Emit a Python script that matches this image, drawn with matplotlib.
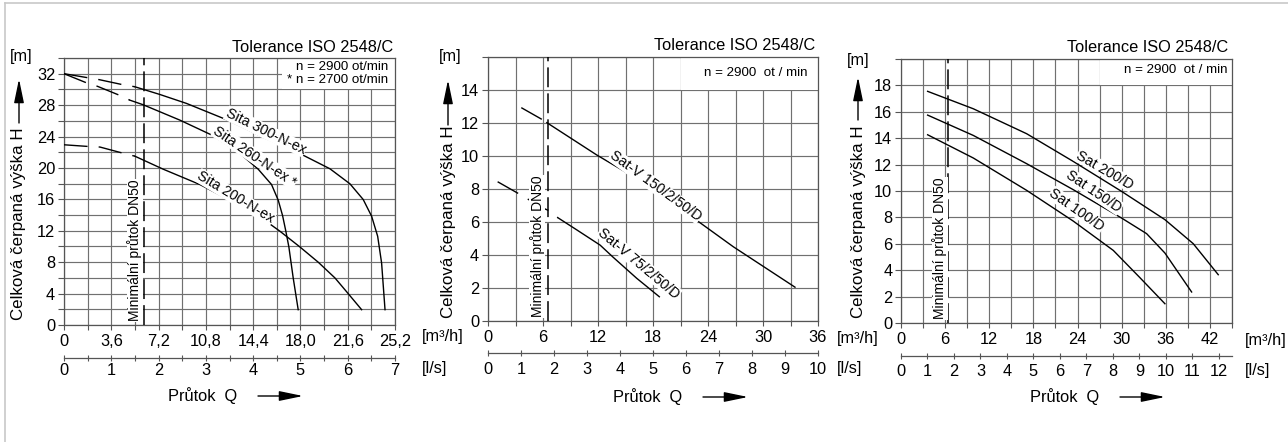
import matplotlib.pyplot as plt
from matplotlib.patches import Rectangle
import numpy as np

plt.rcParams['font.family'] = ['Liberation Sans', 'DejaVu Sans']

W, H = 1288, 442
FS = 11.8

# ---- panel 1: Sita (Q [m3/h], H [m])
sita300_q_dash = [0.0, 1.77, 2.69, 4.47, 5.39]
sita300_h_dash = [32.0, 31.5, 31.24, 30.6, 30.34]
sita300_q = [5.39, 7.29, 9.32, 12.63, 15.42, 18.09, 20.25, 21.77, 22.78, 23.42, 23.88, 24.18, 24.44]
sita300_h = [30.34, 29.36, 28.22, 25.97, 23.71, 21.72, 19.89, 17.98, 15.98, 13.85, 11.30, 7.90, 1.95]

sita260_q_dash = [0.0, 1.77, 2.54, 4.26, 5.0]
sita260_h_dash = [32.0, 30.8, 30.4, 29.23, 28.64]
sita260_q = [5.0, 6.02, 8.82, 11.36, 13.39, 14.78, 15.80, 16.31, 16.64, 16.89, 17.12, 17.45, 17.83]
sita260_h = [28.64, 28.05, 26.09, 24.10, 21.84, 19.85, 17.89, 15.89, 13.94, 11.94, 9.94, 5.99, 1.95]

sita200_q_dash = [0.0, 1.8, 2.74, 4.44, 5.39]
sita200_h_dash = [22.95, 22.74, 22.66, 21.9, 21.5]
sita200_q = [5.39, 7.54, 10.34, 12.63, 14.78, 16.44, 17.96, 19.36, 20.63, 21.64, 22.66]
sita200_h = [21.50, 19.85, 17.89, 15.89, 13.94, 11.94, 9.94, 7.99, 5.99, 3.99, 1.95]

p1_qlabels = ['0', '3,6', '7,2', '10,8', '14,4', '18,0', '21,6', '25,2']
p1_hlabels = ['0', '4', '8', '12', '16', '20', '24', '28', '32']
p1_lslabels = ['0', '1', '2', '3', '4', '5', '6', '7']
p1_minflow = 6.1

# ---- panel 2: Sat-V
satv150_q_dash = [3.63, 5.88, 6.42]
satv150_h_dash = [12.93, 12.22, 12.02]
satv150_q = [6.42, 11.87, 15.85, 20.95, 26.76, 33.49]
satv150_h = [12.02, 10.06, 8.75, 6.83, 4.50, 2.05]

satv75_q_dash = [1.05, 3.27, 6.06, 6.6, 7.62]
satv75_h_dash = [8.44, 7.74, 6.83, 6.7, 6.26]
satv75_q = [7.62, 9.69, 12.23, 13.68, 16.22, 18.69]
satv75_h = [6.26, 5.52, 4.6, 3.85, 2.59, 1.47]

p2_qlabels = ['0', '6', '12', '18', '24', '30', '36']
p2_hlabels = ['0', '2', '4', '6', '8', '10', '12', '14']
p2_lslabels = ['0', '1', '2', '3', '4', '5', '6', '7', '8', '9', '10']
p2_minflow = 6.53

# ---- panel 3: Sat
sat200_q = [3.62, 9.83, 17.08, 23.42, 29.99, 35.88, 39.73, 43.13]
sat200_h = [17.55, 16.23, 14.34, 12.24, 9.97, 7.83, 6.01, 3.66]
sat150_q = [3.62, 9.83, 17.08, 23.42, 29.99, 33.39, 35.88, 39.51]
sat150_h = [15.75, 14.21, 12.07, 10.10, 7.95, 6.77, 5.30, 2.35]
sat100_q = [3.62, 9.83, 17.08, 23.42, 28.86, 32.49, 35.88]
sat100_h = [14.26, 12.50, 10.05, 7.72, 5.50, 3.43, 1.46]

p3_qlabels = ['0', '6', '12', '18', '24', '30', '36', '42']
p3_hlabels = ['0', '2', '4', '6', '8', '10', '12', '14', '16', '18']
p3_lslabels = ['0', '1', '2', '3', '4', '5', '6', '7', '8', '9', '10', '11', '12']
p3_minflow = 6.43

ylab = 'Celková čerpaná výška H'
minflow_lab = 'Minimální průtok DN50'

fig = plt.figure(figsize=(W / 100, H / 100), dpi=100)


def px_axes(l, t, r, b):
    return fig.add_axes([l / W, 1 - b / H, (r - l) / W, (b - t) / H])


def ftext(x, y, s, **kw):
    kw.setdefault('fontsize', FS)
    fig.text(x / W, 1 - y / H, s, **kw)


def farrow(x0, y0, x1, y1):
    fig.patches.append(plt.matplotlib.patches.FancyArrowPatch(
        (x0 / W, 1 - y0 / H), (x1 / W, 1 - y1 / H), transform=fig.transFigure,
        arrowstyle='-|>,head_length=1.45,head_width=0.3', mutation_scale=10,
        color='black', lw=1.0, shrinkA=0, shrinkB=0))


def spread(labels, n, every):
    out = [''] * n
    for i, s in enumerate(labels):
        if i * every < n:
            out[i * every] = s
    return out


def main_axes(box, xmax, xstep, qlabels, qevery, ymax, ystep, hlabels, hevery):
    ax = px_axes(*box)
    ax.set_xlim(0, xmax)
    ax.set_ylim(0, ymax)
    xt = np.arange(0, xmax + 1e-6, xstep)
    yt = np.arange(0, ymax + 1e-6, ystep)
    ax.set_xticks(xt)
    ax.set_xticklabels(spread(qlabels, len(xt), qevery))
    ax.set_yticks(yt)
    ax.set_yticklabels(spread(hlabels, len(yt), hevery))
    ax.grid(True, color='#707070', lw=0.85)
    ax.set_axisbelow(True)
    for s in ax.spines.values():
        s.set_color('#555555')
        s.set_linewidth(0.9)
    ax.tick_params(axis='x', direction='out', length=3.6, width=0.8, color='#555555',
                   pad=3.2, labelsize=FS)
    ax.tick_params(axis='y', direction='out', length=4.3, width=0.8, color='#555555',
                   pad=2.0, labelsize=FS)
    return ax


def ls_axes(l, r, y, lsmax, lsstep, labels, every, pad):
    ax = px_axes(l, y - 1, r, y)
    ax.set_xlim(0, lsmax)
    ax.set_ylim(0, 1)
    for k in ['left', 'right', 'top']:
        ax.spines[k].set_visible(False)
    ax.spines['bottom'].set_color('#555555')
    ax.spines['bottom'].set_linewidth(0.9)
    ax.patch.set_visible(False)
    ax.set_yticks([])
    xt = np.arange(0, int(lsmax / lsstep + 1e-6) * lsstep + 1e-6, lsstep)
    ax.set_xticks(xt)
    ax.set_xticklabels(spread(labels, len(xt), every))
    ax.tick_params(axis='x', direction='inout', length=5, width=0.8, color='#555555',
                   pad=pad, labelsize=FS)
    return ax


def curve_label(ax, x, y, s, rot):
    ax.text(x, y, s, rotation=rot, ha='center', va='center', fontsize=10.3,
            rotation_mode='anchor', zorder=4,
            bbox=dict(facecolor='white', edgecolor='none', pad=0.3))


def min_flow(ax, xline, xlab, ymax):
    ax.plot([xline, xline], [0, ymax], color='black', lw=1.1, dashes=(13, 4), zorder=3)
    ax.text(xlab, 0.25 * ymax / 16, minflow_lab, rotation=90, ha='center', va='bottom',
            fontsize=10, zorder=4,
            bbox=dict(facecolor='white', edgecolor='none', pad=0.5))


def dash_ext(ax, q, h):
    ax.plot(q, h, color='black', lw=1.0, dashes=(17, 8), zorder=3)


def solid(ax, q, h):
    ax.plot(q, h, color='black', lw=1.0, zorder=3)


# outer frame
fig.add_artist(plt.Line2D([5 / W, 5 / W], [0, 1 - 3 / H], transform=fig.transFigure,
                          color='#c8c8c8', lw=1.2))
fig.add_artist(plt.Line2D([5 / W, 1], [1 - 3 / H, 1 - 3 / H], transform=fig.transFigure,
                          color='#c8c8c8', lw=1.2))

# ===== panel 1
ax1 = main_axes((64, 58, 395, 325), 25.2, 1.8, p1_qlabels, 2, 34, 2, p1_hlabels, 2)
ax1.add_patch(Rectangle((16.6, 30), 25.2 - 16.6, 4, facecolor='white', edgecolor='none', zorder=1))
min_flow(ax1, p1_minflow, 5.4, 34)
dash_ext(ax1, sita300_q_dash, sita300_h_dash)
dash_ext(ax1, sita260_q_dash, sita260_h_dash)
dash_ext(ax1, sita200_q_dash, sita200_h_dash)
solid(ax1, sita300_q, sita300_h)
solid(ax1, sita260_q, sita260_h)
solid(ax1, sita200_q, sita200_h)
curve_label(ax1, 15.36, 24.64, 'Sita 300-N-ex', -26)
curve_label(ax1, 14.54, 21.46, 'Sita 260-N-ex *', -34)
curve_label(ax1, 13.07, 16.28, 'Sita 200-N-ex', -31)
ls_axes(64, 395, 358, 7, 0.5, p1_lslabels, 2, 1.0)
ftext(393, 47, 'Tolerance ISO 2548/C', ha='right', va='center')
ftext(388, 67, 'n = 2900 ot/min', ha='right', va='center', fontsize=9.6)
ftext(388, 80, '* n = 2700 ot/min', ha='right', va='center', fontsize=9.6)
ftext(21, 57, '[m]', ha='center', va='center')
ftext(19, 320, ylab, rotation=90, ha='center', va='bottom', fontsize=12.2)
farrow(19, 123, 19, 79)
ftext(168, 396, 'Průtok  Q', ha='left', va='center')
farrow(258, 396, 303, 396)

# ===== panel 2
ax2 = main_axes((488, 57, 818, 321), 36, 3, p2_qlabels, 2, 16, 2, p2_hlabels, 1)
ax2.add_patch(Rectangle((21, 14), 15, 2, facecolor='white', edgecolor='none', zorder=1))
min_flow(ax2, p2_minflow, 5.35, 16)
dash_ext(ax2, satv150_q_dash, satv150_h_dash)
dash_ext(ax2, satv75_q_dash, satv75_h_dash)
solid(ax2, satv150_q, satv150_h)
solid(ax2, satv75_q, satv75_h)
curve_label(ax2, 18.29, 8.18, 'Sat-V 150/2/50/D', -36)
curve_label(ax2, 16.47, 3.5, 'Sat-V 75/2/50/D', -40)
ls_axes(488, 818, 353, 10, 1, p2_lslabels, 1, 4.0)
ftext(815, 45, 'Tolerance ISO 2548/C', ha='right', va='center')
ftext(807, 73, 'n = 2900  ot / min', ha='right', va='center', fontsize=9.6)
ftext(450, 57, '[m]', ha='center', va='center')
ftext(448, 318, ylab, rotation=90, ha='center', va='bottom', fontsize=12.2)
farrow(448, 125, 448, 80)
ftext(613, 397, 'Průtok  Q', ha='left', va='center')
farrow(703, 397, 748, 397)
ftext(422, 337, '[m³/h]', ha='left', va='center')
ftext(422, 369, '[l/s]', ha='left', va='center')

# ===== panel 3
ax3 = main_axes((901, 59, 1232, 323), 45, 3, p3_qlabels, 2, 20, 2, p3_hlabels, 1)
ax3.add_patch(Rectangle((27, 18), 18, 2, facecolor='white', edgecolor='none', zorder=1))
min_flow(ax3, p3_minflow, 5.3, 20)
solid(ax3, sat200_q, sat200_h)
solid(ax3, sat150_q, sat150_h)
solid(ax3, sat100_q, sat100_h)
curve_label(ax3, 27.73, 11.59, 'Sat 200/D', -30)
curve_label(ax3, 26.24, 9.95, 'Sat 150/D', -34)
curve_label(ax3, 23.89, 8.56, 'Sat 100/D', -35)
ls_axes(901, 1232, 356, 12.5, 1, p3_lslabels, 1, 3.0)
ftext(1228, 47, 'Tolerance ISO 2548/C', ha='right', va='center')
ftext(1228, 70, 'n = 2900  ot / min', ha='right', va='center', fontsize=9.6)
ftext(858, 60, '[m]', ha='center', va='center')
ftext(858, 318, ylab, rotation=90, ha='center', va='bottom', fontsize=12.2)
farrow(858, 120, 858, 77)
ftext(1030, 397, 'Průtok  Q', ha='left', va='center')
farrow(1120, 397, 1165, 397)
ftext(837, 338, '[m³/h]', ha='left', va='center')
ftext(837, 369, '[l/s]', ha='left', va='center')
ftext(1245, 340, '[m³/h]', ha='left', va='center')
ftext(1245, 370, '[l/s]', ha='left', va='center')

fig.savefig('out.png', dpi=100)
